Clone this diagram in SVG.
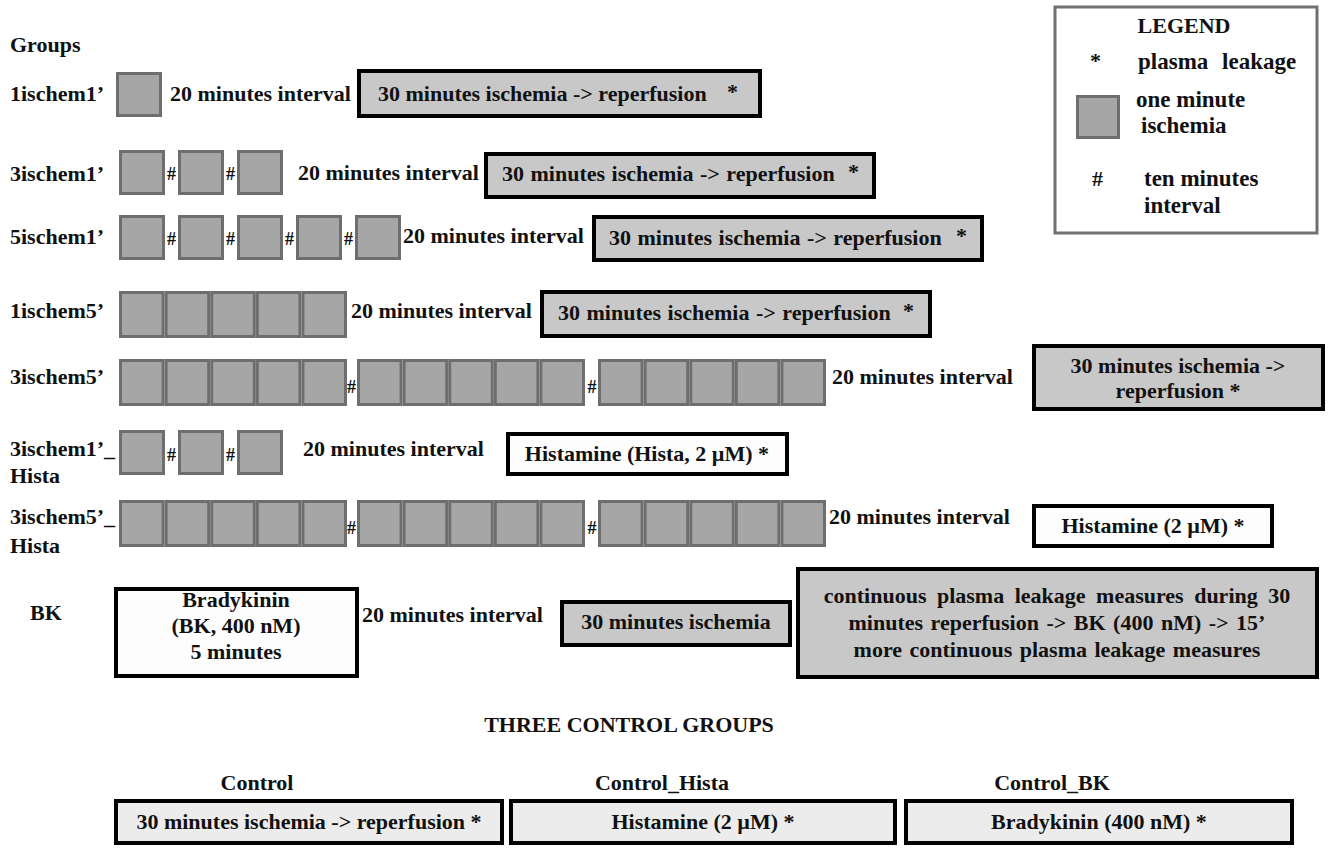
<svg xmlns="http://www.w3.org/2000/svg" xmlns:xlink="http://www.w3.org/1999/xlink" width="1330" height="861" viewBox="0 0 1330 861">
<style>
.t{font-family:"Liberation Serif","Times New Roman",serif;font-weight:bold;font-size:22px;fill:#111}
.m{text-anchor:middle}
.h{font-size:18px}
.lt{font-size:23px}
.sq{fill:#a6a6a6;stroke:#6e6e6e;stroke-width:3}
.gb{fill:#c8c8c8;stroke:#000;stroke-width:4}
.wb{fill:#fdfdfd;stroke:#000;stroke-width:4}
.lb{fill:#ececec;stroke:#000;stroke-width:4}
.lg{fill:#fff;stroke:#707070;stroke-width:3}
</style>
<defs>
<rect id="s1" class="sq" width="43" height="42"/>
<rect id="s5" class="sq" width="42.6" height="44"/>
</defs>
<rect width="1330" height="861" fill="#fff"/>
<g id="connectors"/>

<g id="legend">
<rect class="lg" x="1055" y="7" width="262" height="226"/>
<text class="t m" x="1184" y="33">LEGEND</text>
<text class="t" x="1090" y="68">*</text>
<text class="t lt" x="1138" y="69" word-spacing="8">plasma leakage</text>
<rect class="sq" x="1077.5" y="96.5" width="41" height="41"/>
<text class="t lt" x="1136" y="107">one minute</text>
<text class="t lt" x="1141" y="133">ischemia</text>
<text class="t" x="1092" y="186">#</text>
<text class="t lt" x="1144" y="186">ten minutes</text>
<text class="t lt" x="1144" y="213">interval</text>
</g>

<text class="t" x="10" y="52">Groups</text>

<g id="row-1ischem1">
<text class="t" x="10" y="101">1ischem1’</text>
<use xlink:href="#s1" x="117.5" y="73.5"/>
<text class="t" x="170" y="101">20 minutes interval</text>
<rect class="gb" x="359" y="71" width="401" height="45"/>
<text class="t" x="378" y="101">30 minutes ischemia -&gt; reperfusion</text>
<text class="t" x="727" y="99">*</text>
</g>

<g id="row-3ischem1">
<text class="t" x="10" y="181">3ischem1’</text>
<use xlink:href="#s1" x="120.5" y="151.5"/>
<use xlink:href="#s1" x="179.5" y="151.5"/>
<use xlink:href="#s1" x="238.5" y="151.5"/>
<text class="t h m" x="171.5" y="180">#</text>
<text class="t h m" x="230.5" y="180">#</text>
<text class="t" x="298" y="180">20 minutes interval</text>
<rect class="gb" x="486" y="154" width="388" height="43"/>
<text class="t" x="502" y="181" word-spacing="1">30 minutes ischemia -&gt; reperfusion</text>
<text class="t" x="848" y="179">*</text>
</g>

<g id="row-5ischem1">
<text class="t" x="10" y="244">5ischem1’</text>
<use xlink:href="#s1" x="120.5" y="216.5"/>
<use xlink:href="#s1" x="179.5" y="216.5"/>
<use xlink:href="#s1" x="238.5" y="216.5"/>
<use xlink:href="#s1" x="297.5" y="216.5"/>
<use xlink:href="#s1" x="356.5" y="216.5"/>
<text class="t h m" x="171.5" y="245">#</text>
<text class="t h m" x="230.5" y="245">#</text>
<text class="t h m" x="289.5" y="245">#</text>
<text class="t h m" x="348.5" y="245">#</text>
<text class="t" x="403" y="243">20 minutes interval</text>
<rect class="gb" x="594" y="217" width="388" height="43"/>
<text class="t" x="609" y="245" word-spacing="1">30 minutes ischemia -&gt; reperfusion</text>
<text class="t" x="956" y="243">*</text>
</g>

<g id="row-1ischem5">
<text class="t" x="10" y="318">1ischem5’</text>
<use xlink:href="#s5" x="120.5" y="292.5"/>
<use xlink:href="#s5" x="166.1" y="292.5"/>
<use xlink:href="#s5" x="211.7" y="292.5"/>
<use xlink:href="#s5" x="257.3" y="292.5"/>
<use xlink:href="#s5" x="302.9" y="292.5"/>
<text class="t" x="351" y="318">20 minutes interval</text>
<rect class="gb" x="542" y="292" width="388" height="44"/>
<text class="t" x="558" y="320" word-spacing="1">30 minutes ischemia -&gt; reperfusion</text>
<text class="t" x="903" y="318">*</text>
</g>

<g id="row-3ischem5">
<text class="t" x="10" y="384">3ischem5’</text>
<use xlink:href="#s5" x="120.5" y="360.5"/>
<use xlink:href="#s5" x="166.1" y="360.5"/>
<use xlink:href="#s5" x="211.7" y="360.5"/>
<use xlink:href="#s5" x="257.3" y="360.5"/>
<use xlink:href="#s5" x="302.9" y="360.5"/>
<text class="t h m" x="351.5" y="393">#</text>
<use xlink:href="#s5" x="358.5" y="360.5"/>
<use xlink:href="#s5" x="404.1" y="360.5"/>
<use xlink:href="#s5" x="449.7" y="360.5"/>
<use xlink:href="#s5" x="495.3" y="360.5"/>
<use xlink:href="#s5" x="540.9" y="360.5"/>
<text class="t h m" x="592" y="393">#</text>
<use xlink:href="#s5" x="599.5" y="360.5"/>
<use xlink:href="#s5" x="645.1" y="360.5"/>
<use xlink:href="#s5" x="690.7" y="360.5"/>
<use xlink:href="#s5" x="736.3" y="360.5"/>
<use xlink:href="#s5" x="781.9" y="360.5"/>
<text class="t" x="832" y="384">20 minutes interval</text>
<rect class="gb" x="1034" y="346" width="289" height="63"/>
<text class="t m" x="1178" y="373">30 minutes ischemia -&gt;</text>
<text class="t m" x="1178" y="398">reperfusion *</text>
</g>

<g id="row-3ischem1-hista">
<text class="t" x="10" y="456">3ischem1’_</text>
<text class="t" x="10" y="483">Hista</text>
<use xlink:href="#s1" x="120.5" y="431.5"/>
<use xlink:href="#s1" x="179.5" y="431.5"/>
<use xlink:href="#s1" x="238.5" y="431.5"/>
<text class="t h m" x="171.5" y="461">#</text>
<text class="t h m" x="230.5" y="461">#</text>
<text class="t" x="303" y="456">20 minutes interval</text>
<rect class="wb" x="508" y="434" width="279" height="40"/>
<text class="t m" x="647" y="461">Histamine (Hista, 2 µM) *</text>
</g>

<g id="row-3ischem5-hista">
<text class="t" x="10" y="524">3ischem5’_</text>
<text class="t" x="10" y="553">Hista</text>
<use xlink:href="#s5" x="120.5" y="501.5"/>
<use xlink:href="#s5" x="166.1" y="501.5"/>
<use xlink:href="#s5" x="211.7" y="501.5"/>
<use xlink:href="#s5" x="257.3" y="501.5"/>
<use xlink:href="#s5" x="302.9" y="501.5"/>
<text class="t h m" x="351.5" y="534">#</text>
<use xlink:href="#s5" x="358.5" y="501.5"/>
<use xlink:href="#s5" x="404.1" y="501.5"/>
<use xlink:href="#s5" x="449.7" y="501.5"/>
<use xlink:href="#s5" x="495.3" y="501.5"/>
<use xlink:href="#s5" x="540.9" y="501.5"/>
<text class="t h m" x="592" y="534">#</text>
<use xlink:href="#s5" x="599.5" y="501.5"/>
<use xlink:href="#s5" x="645.1" y="501.5"/>
<use xlink:href="#s5" x="690.7" y="501.5"/>
<use xlink:href="#s5" x="736.3" y="501.5"/>
<use xlink:href="#s5" x="781.9" y="501.5"/>
<text class="t" x="829" y="524">20 minutes interval</text>
<rect class="wb" x="1034" y="506" width="238" height="40"/>
<text class="t m" x="1153" y="533">Histamine (2 µM) *</text>
</g>

<g id="row-bk">
<text class="t" x="30" y="620">BK</text>
<rect class="wb" x="116" y="589" width="241" height="87"/>
<text class="t m" x="236" y="607">Bradykinin</text>
<text class="t m" x="236" y="633">(BK, 400 nM)</text>
<text class="t m" x="236" y="659">5 minutes</text>
<text class="t" x="362" y="622">20 minutes interval</text>
<rect class="gb" x="562" y="602" width="228" height="43"/>
<text class="t m" x="676" y="629">30 minutes ischemia</text>
<rect class="gb" x="798" y="569" width="519" height="108"/>
<text class="t m" x="1057" y="603" word-spacing="5">continuous plasma leakage measures during 30</text>
<text class="t m" x="1057" y="630" word-spacing="2">minutes reperfusion -&gt; BK (400 nM) -&gt; 15’</text>
<text class="t m" x="1057" y="657" word-spacing="2">more continuous plasma leakage measures</text>
</g>

<text class="t m" x="629" y="732">THREE CONTROL GROUPS</text>

<g id="control">
<text class="t m" x="257" y="790">Control</text>
<rect class="lb" x="116" y="801" width="386" height="42"/>
<text class="t m" x="309" y="829">30 minutes ischemia -&gt; reperfusion *</text>
</g>
<g id="control-hista">
<text class="t m" x="662" y="790">Control_Hista</text>
<rect class="lb" x="511" y="801" width="384" height="42"/>
<text class="t m" x="703" y="829">Histamine (2 µM) *</text>
</g>
<g id="control-bk">
<text class="t m" x="1052" y="790">Control_BK</text>
<rect class="lb" x="906" y="801" width="386" height="42"/>
<text class="t m" x="1099" y="829">Bradykinin (400 nM) *</text>
</g>
</svg>
